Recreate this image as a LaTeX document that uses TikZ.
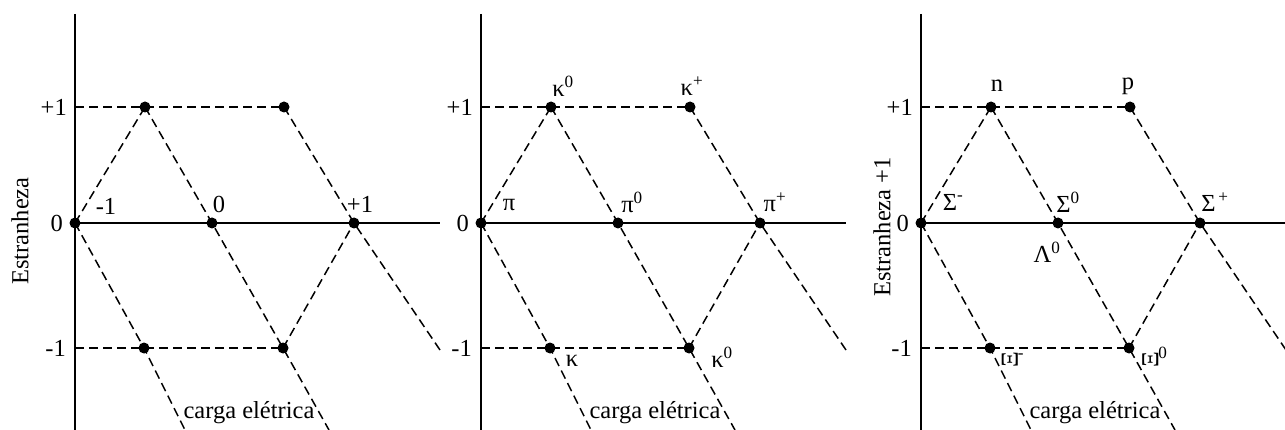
\documentclass[tikz,border=0pt]{standalone}
\usepackage{fontspec}
\setmainfont{Liberation Serif}
\usepackage{graphicx}
\newcommand\hexpanel[2]{%
  \coordinate (#1vt) at (#2,14);
  \coordinate (#1vb) at (#2,430);
  \coordinate (#1he) at (#2+365,223);
  \coordinate (#1t1) at (#2,107);
  \coordinate (#1t2) at (#2,348);
  \coordinate (#1g) at (#2+110,430);
  \coordinate (#1h) at (#2+254,430);
  \coordinate (#1k) at (#2+365,350);
  \draw[axis] (#1vt) -- (#1vb);
  \node[dot] (#1a) at (#2+70,107) {};
  \node[dot] (#1b) at (#2+209,107) {};
  \node[dot] (#1o) at (#2,223) {};
  \node[dot] (#1c) at (#2+137,223) {};
  \node[dot] (#1d) at (#2+279,223) {};
  \node[dot] (#1e) at (#2+69,348) {};
  \node[dot] (#1f) at (#2+208,348) {};
  \draw[axis] (#1o.center) -- (#1he);
  \draw[dsh] (#1t1) -- (#1b.center);
  \draw[dsh] (#1t2) -- (#1f.center);
  \draw[dsh] (#1o.center) -- (#1a.center);
  \draw[dsh] (#1a.center) -- (#1c.center) -- (#1f.center) -- (#1h);
  \draw[dsh] (#1o.center) -- (#1e.center) -- (#1g);
  \draw[dsh] (#1b.center) -- (#1d.center) -- (#1k);
  \draw[dsh] (#1f.center) -- (#1d.center);
  \node[lbl, anchor=east] (#1y1) at (#2-8,107) {+1};
  \node[lbl, anchor=east] (#1y0) at (#2-12,223) {0};
  \node[lbl, anchor=east] (#1ym) at (#2-9,348) {-1};
  \node[lbl] (#1cg) at (#2+174,413) {carga elétrica};
}
\begin{document}
\begin{tikzpicture}[x=1pt,y=-1pt,
  font=\fontsize{24.5}{29}\selectfont,
  axis/.style={line width=2pt},
  dsh/.style={dash pattern=on 9pt off 5pt, line width=1.5pt},
  dot/.style={circle, fill=black, inner sep=0pt, minimum size=11pt},
  lbl/.style={inner sep=0pt}]
\useasboundingbox (0,0) rectangle (1285,430);
\fill[white] (0,0) rectangle (1285,430);

\hexpanel{p}{75}
\hexpanel{q}{481}
\hexpanel{r}{921}

% panel 1 labels
\node[lbl, rotate=90] (pylab) at (20,231) {Estranheza};
\node[lbl] (pl1) at (106,206) {-1};
\node[lbl] (pl2) at (219,204) {0};
\node[lbl] (pl3) at (360,204) {+1};

% panel 2 labels
\node[lbl] (ql1) at (509,205) {π};
\node[lbl] (ql2) at (632,202) {π\textsuperscript{0}};
\node[lbl] (ql3) at (775,202) {π\textsuperscript{+}};
\node[lbl] (ql4) at (563,86) {κ\textsuperscript{0}};
\node[lbl] (ql5) at (692,86) {κ\textsuperscript{+}};
\node[lbl] (ql6) at (572,361) {κ};
\node[lbl] (ql7) at (722,357) {κ\textsuperscript{0}};

% panel 3 labels
\node[lbl, rotate=90] (rylab) at (882,227) {Estranheza +1};
\node[lbl] (rl1) at (997,86) {n};
\node[lbl] (rl2) at (1128,86) {p};
\node[lbl] (rl3) at (953,202) {Σ\textsuperscript{-}};
\node[lbl] (rl4) at (1068,202) {Σ\textsuperscript{0}};
\node[lbl] (rl5) at (1215,202) {Σ\textsuperscript{\,+}};
\node[lbl] (rl6) at (1047,252) {Λ\textsuperscript{0}};
\node[lbl] (rl7) at (1013,360) {\rotatebox{90}{Ξ}\textsuperscript{-}};
\node[lbl] (rl8) at (1155,357) {\rotatebox{90}{Ξ}\textsuperscript{0}};
\end{tikzpicture}
\end{document}
